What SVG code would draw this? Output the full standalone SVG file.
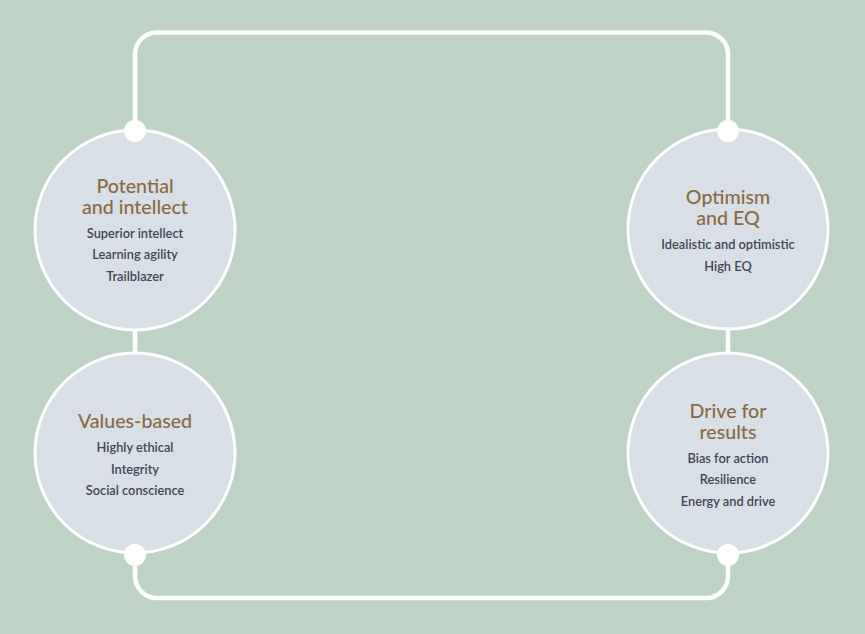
<svg xmlns="http://www.w3.org/2000/svg" width="865" height="634" viewBox="0 0 865 634">
<style>
.node circle.main{fill:#d8dfe6;stroke:#ffffff;stroke-width:3}
.dot{fill:#ffffff}
.title{font-family:Lato,"Open Sans","Liberation Sans",sans-serif;font-size:19.6px;font-weight:500;fill:#8a6a42;text-anchor:middle}
.item{font-family:Lato,"Open Sans","Liberation Sans",sans-serif;font-size:12.8px;font-weight:600;fill:#3f4658;text-anchor:middle}
.loop{fill:none;stroke:#ffffff;stroke-width:4.5}
</style>
<rect width="865" height="634" fill="#bed3c6"/>
<g id="connectors">
<rect class="loop" x="135" y="32.5" width="593" height="565.5" rx="22" ry="22"/>
</g>
<g id="node-potential" class="node">
<circle class="main" cx="135" cy="230" r="100"/>
<circle class="dot" cx="135" cy="131" r="11"/>
<text class="title" x="135" y="193">Potential</text>
<text class="title" x="135" y="214">and intellect</text>
<text class="item" x="135" y="238">Superior intellect</text>
<text class="item" x="135" y="259">Learning agility</text>
<text class="item" x="135" y="280.5">Trailblazer</text>
</g>
<g id="node-values" class="node">
<circle class="main" cx="135" cy="453" r="100"/>
<circle class="dot" cx="135" cy="555" r="11"/>
<text class="title" x="135" y="428">Values-based</text>
<text class="item" x="135" y="452">Highly ethical</text>
<text class="item" x="135" y="473.5">Integrity</text>
<text class="item" x="135" y="495">Social conscience</text>
</g>
<g id="node-optimism" class="node">
<circle class="main" cx="728" cy="229" r="100"/>
<circle class="dot" cx="728" cy="131" r="11"/>
<text class="title" x="728" y="204">Optimism</text>
<text class="title" x="728" y="224.5">and EQ</text>
<text class="item" x="728" y="249">Idealistic and optimistic</text>
<text class="item" x="728" y="270.5">High EQ</text>
</g>
<g id="node-drive" class="node">
<circle class="main" cx="728" cy="453" r="100"/>
<circle class="dot" cx="728" cy="555" r="11"/>
<text class="title" x="728" y="418">Drive for</text>
<text class="title" x="728" y="438.5">results</text>
<text class="item" x="728" y="463">Bias for action</text>
<text class="item" x="728" y="484">Resilience</text>
<text class="item" x="728" y="506">Energy and drive</text>
</g>
</svg>
